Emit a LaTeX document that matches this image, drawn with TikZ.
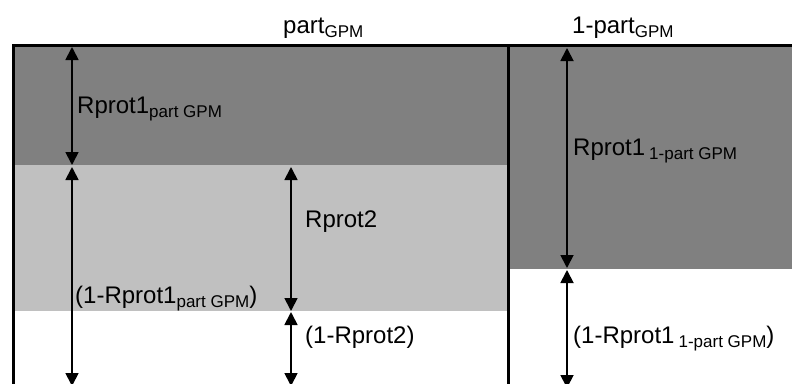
\documentclass[tikz,border=0pt]{standalone}
\usepackage{fontspec}
\setmainfont{Liberation Sans}
\usetikzlibrary{arrows.meta}
\definecolor{darkg}{RGB}{128,128,128}
\definecolor{lightg}{RGB}{192,192,192}
\newcommand{\sbx}[1]{\raisebox{-4pt}{\fontsize{17}{17}\selectfont #1}}
\tikzset{
  dim/.style={line width=1.8pt,{Triangle[width=13pt,length=13pt]}-{Triangle[width=13pt,length=13pt]}},
  lbl/.style={anchor=base west,inner sep=0pt,font=\fontsize{24}{28}\selectfont},
  frame/.style={line width=3pt}
}
\begin{document}
\begin{tikzpicture}[x=1pt,y=-1pt]
\useasboundingbox (0,0) rectangle (792,383);
% fills
\fill[darkg] (13,45) rectangle (792,165);
\fill[lightg] (13,165) rectangle (508,311);
\fill[darkg] (508,165) rectangle (792,269);
% frame
\draw[frame] (13,390) -- (13,45) -- (800,45);
\draw[frame] (508,45) -- (508,390);
% coordinates
\coordinate (a1) at (72,47);
\coordinate (a2) at (72,165);
\coordinate (a3) at (72,167);
\coordinate (a4) at (72,386);
\coordinate (b1) at (291,167);
\coordinate (b2) at (291,311);
\coordinate (b3) at (291,312);
\coordinate (b4) at (291,386);
\coordinate (c1) at (567,48);
\coordinate (c2) at (567,268);
\coordinate (c3) at (567,270);
\coordinate (c4) at (567,388);
\draw[dim] (a1) -- (a2);
\draw[dim] (a3) -- (a4);
\draw[dim] (b1) -- (b2);
\draw[dim] (b3) -- (b4);
\draw[dim] (c1) -- (c2);
\draw[dim] (c3) -- (c4);
% labels
\node[lbl] (t1) at (283,33) {part\sbx{GPM}};
\node[lbl] (t2) at (572,33) {1-part\sbx{GPM}};
\node[lbl] (l1) at (77,113) {Rprot1\sbx{part GPM}};
\node[lbl] (l2) at (75,303) {(1-Rprot1\sbx{part GPM})};
\node[lbl] (l3) at (305,227) {Rprot2};
\node[lbl] (l4) at (305,343) {(1-Rprot2)};
\node[lbl] (l5) at (573,155) {Rprot1\,\sbx{1-part GPM}};
\node[lbl] (l6) at (573,343) {(1-Rprot1\,\sbx{1-part GPM})};
\end{tikzpicture}
\end{document}
